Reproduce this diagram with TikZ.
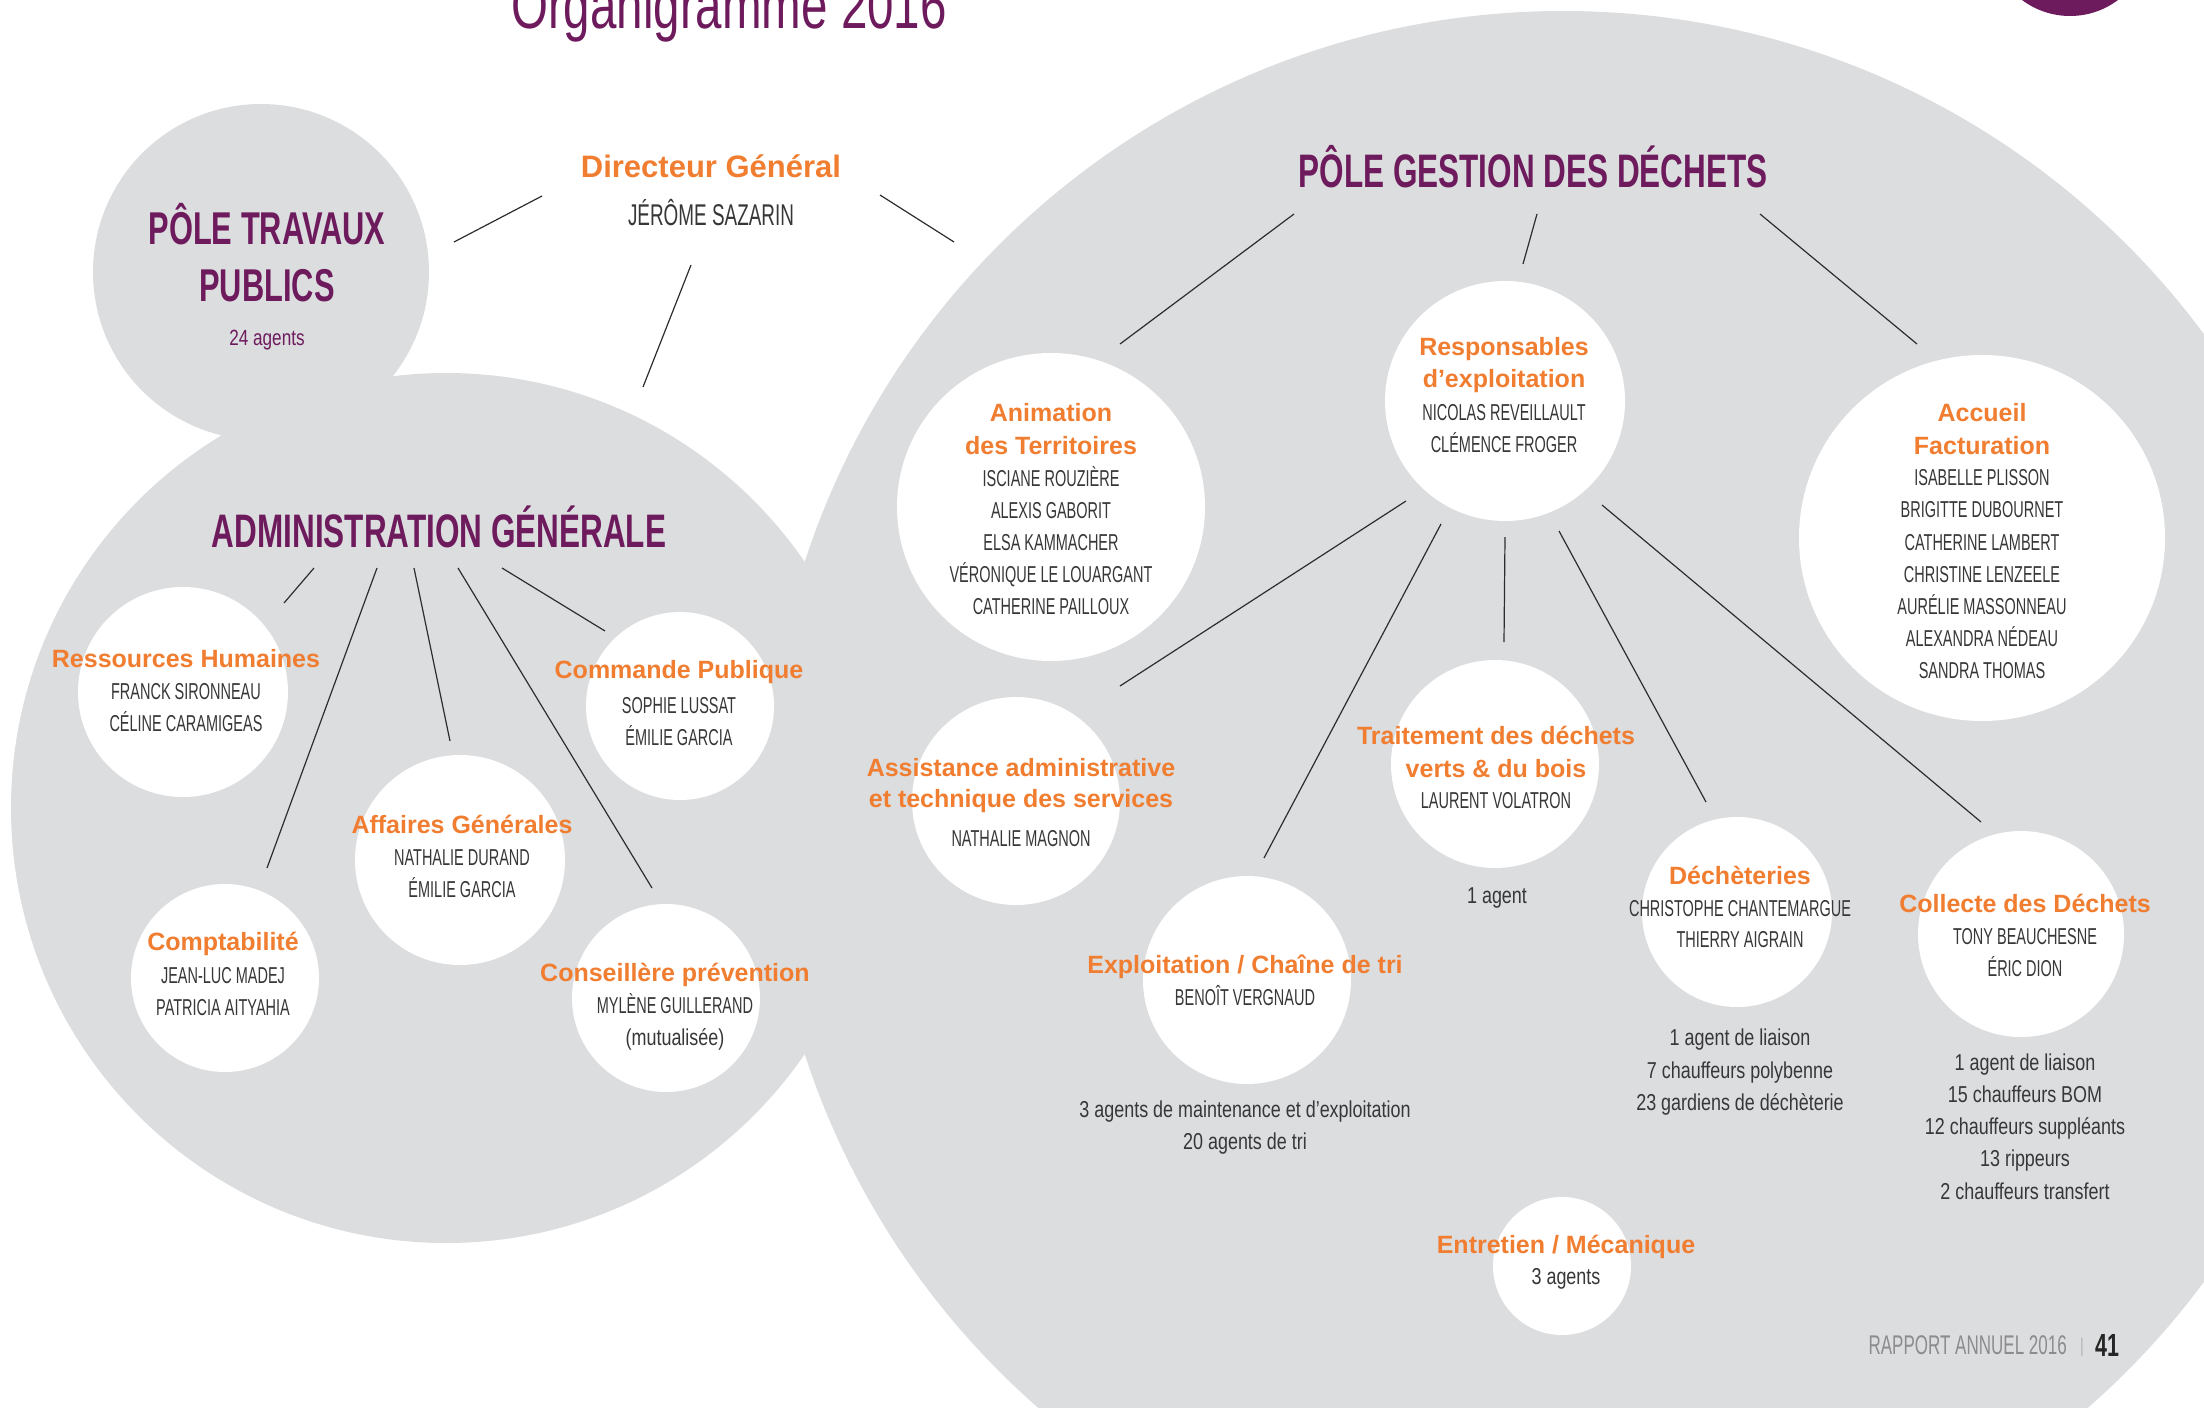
\documentclass[tikz,border=0pt]{standalone}
\usepackage{fontspec}
\setmainfont{Liberation Sans}
\newfontfamily\nmfont{Liberation Sans}[FakeStretch=0.63]
\newfontfamily\lsfont{Liberation Sans}[FakeStretch=0.78]
\newfontfamily\tfont{Liberation Sans}[FakeStretch=0.67]
\newfontfamily\ogfont{Liberation Sans}[FakeStretch=0.72]
\definecolor{bggrey}{RGB}{220,221,223}
\definecolor{purp}{RGB}{110,27,94}
\definecolor{orng}{RGB}{240,125,48}
\definecolor{namec}{RGB}{55,55,55}
\definecolor{lnc}{RGB}{45,45,45}
\definecolor{footg}{RGB}{140,140,140}
\begin{document}
\begin{tikzpicture}[x=1pt,y=-1pt,
  wcirc/.style={circle, fill=white, draw=none, inner sep=0pt, outer sep=0pt},
  lnk/.style={draw=lnc, line width=1.2pt},
  orl/.style={anchor=base, inner sep=0pt, text=orng, font=\fontsize{25}{30}\selectfont\bfseries},
  nml/.style={anchor=base, inner sep=0pt, text=namec, font=\nmfont\fontsize{23}{28}\selectfont},
  lsl/.style={anchor=base, inner sep=0pt, text=namec, font=\lsfont\fontsize{23}{28}\selectfont},
  bigt/.style={anchor=base, inner sep=0pt, text=purp, font=\tfont\fontsize{47}{52}\selectfont\bfseries}]
\useasboundingbox (0,0) rectangle (2204,1408);
% background shapes
\fill[bggrey] (261,272) circle [radius=168pt];
\fill[bggrey] (446,808) circle [radius=435pt];
\fill[bggrey] (1563,808) circle [radius=797pt];
\fill[purp] (2070,-64) circle [radius=80pt];
% white circles
\node[wcirc, minimum size=210pt] (rh) at (183,692) {};
\node[wcirc, minimum size=188pt] (cp) at (680,706) {};
\node[wcirc, minimum size=210pt] (ag) at (460,860) {};
\node[wcirc, minimum size=188pt] (compta) at (225,978) {};
\node[wcirc, minimum size=188pt] (prev) at (666,998) {};
\node[wcirc, minimum size=308pt] (anim) at (1051,507) {};
\node[wcirc, minimum size=240pt] (resp) at (1505,401) {};
\node[wcirc, minimum size=366pt] (acc) at (1982,538) {};
\node[wcirc, minimum size=208pt] (assist) at (1016,801) {};
\node[wcirc, minimum size=208pt] (trait) at (1495,764) {};
\node[wcirc, minimum size=190pt] (dech) at (1737,912) {};
\node[wcirc, minimum size=206pt] (coll) at (2021,934) {};
\node[wcirc, minimum size=208pt] (expl) at (1247,980) {};
\node[wcirc, minimum size=138pt] (entr) at (1562,1266) {};
% connector end points
\coordinate (dgLa) at (454,242); \coordinate (dgLb) at (542,196);
\coordinate (dgRa) at (880,195); \coordinate (dgRb) at (954,242);
\coordinate (dgDa) at (691,265); \coordinate (dgDb) at (643,387);
\coordinate (pgLa) at (1294,214); \coordinate (pgLb) at (1120,344);
\coordinate (pgMa) at (1537,214); \coordinate (pgMb) at (1523,264);
\coordinate (pgRa) at (1760,214); \coordinate (pgRb) at (1917,344);
\coordinate (ag1a) at (314,568); \coordinate (ag1b) at (284,603);
\coordinate (ag2a) at (377,568); \coordinate (ag2b) at (267,868);
\coordinate (ag3a) at (414,568); \coordinate (ag3b) at (450,741);
\coordinate (ag4a) at (458,568); \coordinate (ag4b) at (652,888);
\coordinate (ag5a) at (502,568); \coordinate (ag5b) at (605,631);
\coordinate (r1a) at (1406,501); \coordinate (r1b) at (1120,686);
\coordinate (r2a) at (1441,524); \coordinate (r2b) at (1264,858);
\coordinate (r3a) at (1505,537); \coordinate (r3b) at (1504,642);
\coordinate (r4a) at (1559,531); \coordinate (r4b) at (1706,802);
\coordinate (r5a) at (1602,505); \coordinate (r5b) at (1981,822);
\foreach \p in {dgL,dgR,dgD,pgL,pgM,pgR,ag1,ag2,ag3,ag4,ag5,r1,r2,r3,r4,r5}
  \draw[lnk] (\p a) -- (\p b);
% titles
\node[anchor=base, inner sep=0pt, text=purp, font=\ogfont\fontsize{66}{70}\selectfont] (title) at (729,28) {Organigramme 2016};
\node[orl, font=\fontsize{31}{36}\selectfont\bfseries] (dg1) at (711,177) {Directeur Général};
\node[nml, font=\nmfont\fontsize{30}{34}\selectfont] (dg2) at (711,225) {JÉRÔME SAZARIN};
\node[bigt, font=\tfont\fontsize{46}{50}\selectfont\bfseries] (ptp1) at (267,244) {PÔLE TRAVAUX};
\node[bigt, font=\tfont\fontsize{46}{50}\selectfont\bfseries] (ptp2) at (267,301) {PUBLICS};
\node[lsl, text=purp, font=\lsfont\fontsize{22}{26}\selectfont] (ptp3) at (267,345) {24 agents};
\node[bigt] (admt) at (439,547) {ADMINISTRATION GÉNÉRALE};
\node[bigt] (pgdt) at (1533,187) {PÔLE GESTION DES DÉCHETS};
% administration
\node[orl] (rh1) at (186,667) {Ressources Humaines};
\node[nml] (rh2) at (186,699) {FRANCK SIRONNEAU};
\node[nml] (rh3) at (186,731) {CÉLINE CARAMIGEAS};
\node[orl] (cp1) at (679,678) {Commande Publique};
\node[nml] (cp2) at (679,713) {SOPHIE LUSSAT};
\node[nml] (cp3) at (679,745) {ÉMILIE GARCIA};
\node[orl] (ag1) at (462,833) {Affaires Générales};
\node[nml] (ag2) at (462,865) {NATHALIE DURAND};
\node[nml] (ag3) at (462,897) {ÉMILIE GARCIA};
\node[orl] (co1) at (223,950) {Comptabilité};
\node[nml] (co2) at (223,983) {JEAN-LUC MADEJ};
\node[nml] (co3) at (223,1015) {PATRICIA AITYAHIA};
\node[orl] (pr1) at (675,981) {Conseillère prévention};
\node[nml] (pr2) at (675,1013) {MYLÈNE GUILLERAND};
\node[lsl] (pr3) at (675,1045) {(mutualisée)};
% gestion des dechets
\node[orl] (an1) at (1051,421) {Animation};
\node[orl] (an2) at (1051,454) {des Territoires};
\node[nml] (an3) at (1051,486) {ISCIANE ROUZIÈRE};
\node[nml] (an4) at (1051,518) {ALEXIS GABORIT};
\node[nml] (an5) at (1051,550) {ELSA KAMMACHER};
\node[nml] (an6) at (1051,582) {VÉRONIQUE LE LOUARGANT};
\node[nml] (an7) at (1051,614) {CATHERINE PAILLOUX};
\node[orl] (re1) at (1504,355) {Responsables};
\node[orl] (re2) at (1504,387) {d’exploitation};
\node[nml] (re3) at (1504,420) {NICOLAS REVEILLAULT};
\node[nml] (re4) at (1504,452) {CLÉMENCE FROGER};
\node[orl] (ac1) at (1982,421) {Accueil};
\node[orl] (ac2) at (1982,454) {Facturation};
\node[nml] (ac3) at (1982,485) {ISABELLE PLISSON};
\node[nml] (ac4) at (1982,517) {BRIGITTE DUBOURNET};
\node[nml] (ac5) at (1982,550) {CATHERINE LAMBERT};
\node[nml] (ac6) at (1982,582) {CHRISTINE LENZEELE};
\node[nml] (ac7) at (1982,614) {AURÉLIE MASSONNEAU};
\node[nml] (ac8) at (1982,646) {ALEXANDRA NÉDEAU};
\node[nml] (ac9) at (1982,678) {SANDRA THOMAS};
\node[orl] (as1) at (1021,776) {Assistance administrative};
\node[orl] (as2) at (1021,807) {et technique des services};
\node[nml] (as3) at (1021,846) {NATHALIE MAGNON};
\node[orl] (tr1) at (1496,744) {Traitement des déchets};
\node[orl] (tr2) at (1496,777) {verts \& du bois};
\node[nml] (tr3) at (1496,808) {LAURENT VOLATRON};
\node[lsl] (tr4) at (1497,903) {1 agent};
\node[orl] (de1) at (1740,884) {Déchèteries};
\node[nml] (de2) at (1740,916) {CHRISTOPHE CHANTEMARGUE};
\node[nml] (de3) at (1740,947) {THIERRY AIGRAIN};
\node[lsl] (de4) at (1740,1045) {1 agent de liaison};
\node[lsl] (de5) at (1740,1078) {7 chauffeurs polybenne};
\node[lsl] (de6) at (1740,1110) {23 gardiens de déchèterie};
\node[orl] (cl1) at (2025,912) {Collecte des Déchets};
\node[nml] (cl2) at (2025,944) {TONY BEAUCHESNE};
\node[nml] (cl3) at (2025,976) {ÉRIC DION};
\node[lsl] (cl4) at (2025,1070) {1 agent de liaison};
\node[lsl] (cl5) at (2025,1102) {15 chauffeurs BOM};
\node[lsl] (cl6) at (2025,1134) {12 chauffeurs suppléants};
\node[lsl] (cl7) at (2025,1166) {13 rippeurs};
\node[lsl] (cl8) at (2025,1199) {2 chauffeurs transfert};
\node[orl] (ex1) at (1245,973) {Exploitation / Chaîne de tri};
\node[nml] (ex2) at (1245,1005) {BENOÎT VERGNAUD};
\node[lsl] (ex3) at (1245,1117) {3 agents de maintenance et d’exploitation};
\node[lsl] (ex4) at (1245,1149) {20 agents de tri};
\node[orl] (en1) at (1566,1253) {Entretien / Mécanique};
\node[lsl] (en2) at (1566,1284) {3 agents};
% footer
\node[anchor=base east, inner sep=0pt, text=footg, font=\nmfont\fontsize{27}{30}\selectfont] (foot) at (2067,1354) {RAPPORT ANNUEL 2016};
\node[anchor=base, inner sep=0pt, text=footg!70, font=\nmfont\fontsize{20}{24}\selectfont] (fbar) at (2082,1352) {|};
\node[anchor=base west, inner sep=0pt, text=black!85, font=\tfont\fontsize{32}{36}\selectfont\bfseries] (pgno) at (2095,1356) {41};
\end{tikzpicture}
\end{document}
